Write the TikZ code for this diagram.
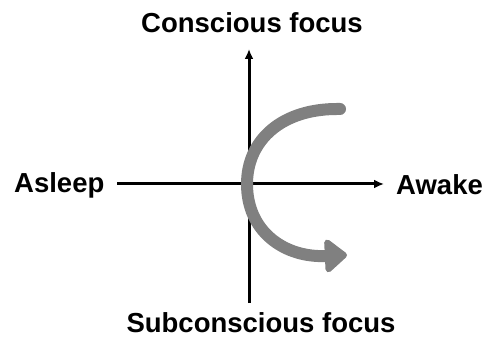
\documentclass[tikz,border=0pt]{standalone}
\usepackage{fontspec}
\setmainfont{Liberation Sans}
\usetikzlibrary{arrows.meta}
\definecolor{curvegray}{RGB}{128,128,128}
\tikzset{
  lbl/.style={font=\fontsize{27.5}{30}\selectfont\bfseries, inner sep=0pt},
  axis/.style={line width=3pt, -{Latex[length=10pt,width=9pt]}},
  flow/.style={line width=12pt, curvegray, line cap=round, -{Triangle[length=24pt,width=38pt,round=false]}}
}
\begin{document}
\begin{tikzpicture}[x=1pt,y=-1pt]
\useasboundingbox (0,0) rectangle (487,339);
\node[lbl] (cf) at (252,23) {Conscious focus};
\node[lbl] (sf) at (261,323) {Subconscious focus};
\node[lbl, anchor=west] (asl) at (14,185) {Asleep};
\node[lbl, anchor=west] (awk) at (396,185) {Awake};
\coordinate (hl) at (117,184);
\coordinate (hr) at (384,184);
\coordinate (vb) at (249,303);
\coordinate (vt) at (249,49);
\draw[axis] (hl) -- (hr);
\draw[axis] (vb) -- (vt);
\coordinate (cs) at (340,109);
\coordinate (cm) at (247,184);
\coordinate (ce) at (347,255);
\draw[flow] (cs) .. controls (282,108) and (247,140) .. (cm)
  .. controls (247,232) and (285,258) .. (ce);
\end{tikzpicture}
\end{document}
